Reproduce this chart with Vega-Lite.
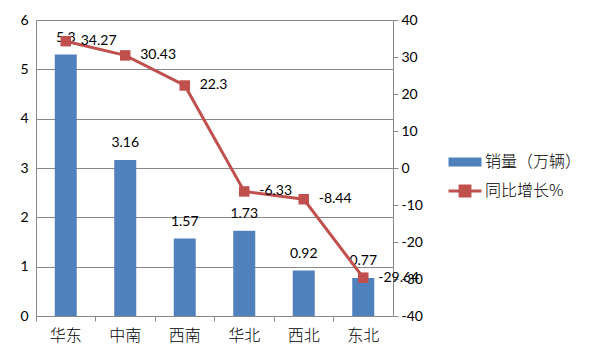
{
  "$schema": "https://vega.github.io/schema/vega-lite/v6.json",
  "autosize": "none",
  "width": 357,
  "height": 296,
  "padding": {"left": 36, "top": 20, "right": 207, "bottom": 43},
  "background": "white",
  "config": {
    "font": "Lato, Noto Sans CJK SC",
    "view": {"stroke": "#888888", "strokeWidth": 1},
    "axis": {"labelColor": "#000000", "domainColor": "#888888", "tickColor": "#888888", "gridColor": "#888888", "labelFont": "Lato, Noto Sans CJK SC", "labelOverlap": false}
  },
  "data": {
    "values": [
      {"region": "华东", "sales": 5.3, "growth": 34.27},
      {"region": "中南", "sales": 3.16, "growth": 30.43},
      {"region": "西南", "sales": 1.57, "growth": 22.3},
      {"region": "华北", "sales": 1.73, "growth": -6.33},
      {"region": "西北", "sales": 0.92, "growth": -8.44},
      {"region": "东北", "sales": 0.77, "growth": -29.64}
    ]
  },
  "encoding": {
    "x": {
      "field": "region", "type": "nominal", "sort": null,
      "scale": {"paddingInner": 0, "paddingOuter": 0},
      "axis": {"title": null, "labelAngle": 0, "labelFontSize": 16, "labelPadding": 6, "tickSize": 5, "bandPosition": 0, "grid": false, "labelFont": "Noto Sans CJK SC", "labelFontWeight": 300}
    }
  },
  "layer": [
    {
      "encoding": {
        "y": {"field": "sales", "type": "quantitative", "scale": {"domain": [0, 6]},
          "axis": {"title": null, "values": [0,1,2,3,4,5,6], "ticks": false, "labelPadding": 8, "labelFontSize": 14, "grid": true, "labelOverlap": false}}
      },
      "layer": [
        {
          "mark": {"type": "bar", "size": 22, "color": "#4F81BD"},
          "encoding": {
            "color": {"datum": "销量（万辆）", "type": "nominal",
              "scale": {"domain": ["销量（万辆）", "同比增长%"], "range": ["#4F81BD", "#C0504D"]},
              "legend": {
                "title": null, "orient": "none", "legendX": 411, "legendY": 124,
                "symbolSize": 1089, "labelFontSize": 16, "labelOffset": 2, "rowPadding": 0, "padding": 0,
                "labelFont": "Noto Sans CJK SC", "labelFontWeight": 300, "labelColor": "#000000",
                "symbolType": "square",
                "encode": {
                  "symbols": {
                    "update": {
                      "shape": {"signal": "datum.value === '销量（万辆）' ? 'M-1,-0.27H1V0.27H-1Z' : 'M-1,0H1M-0.3,-0.3H0.3V0.3H-0.3Z'"},
                      "fill": {"signal": "datum.value === '销量（万辆）' ? '#4F81BD' : '#C0504D'"},
                      "stroke": {"signal": "datum.value === '销量（万辆）' ? 'transparent' : '#C0504D'"},
                      "strokeWidth": {"value": 3},
                      "opacity": {"value": 1},
                      "fillOpacity": {"value": 1}
                    }
                  }
                }
              }}
          }
        },
        {
          "mark": {"type": "text", "baseline": "bottom", "dy": -10, "fontSize": 14, "color": "#000000"},
          "encoding": {
            "text": {"field": "sales", "type": "nominal"}
          }
        }
      ]
    },
    {
      "encoding": {
        "y": {"field": "growth", "type": "quantitative", "scale": {"domain": [-40, 40]},
          "axis": {"title": null, "orient": "right", "values": [-40,-30,-20,-10,0,10,20,30,40], "tickSize": 5, "labelPadding": 3, "labelFontSize": 14, "grid": false, "labelOverlap": false, "labelExpr": "replace(datum.label, '−', '-')"}}
      },
      "layer": [
        {
          "mark": {"type": "line", "color": "#C0504D", "strokeWidth": 3}
        },
        {
          "mark": {"type": "point", "shape": "square", "filled": true, "size": 110, "color": "#C0504D", "opacity": 1}
        },
        {
          "mark": {"type": "text", "align": "left", "baseline": "middle", "dx": 15, "fontSize": 14, "color": "#000000"},
          "encoding": {
            "text": {"field": "growth", "type": "nominal"}
          }
        }
      ]
    }
  ],
  "resolve": {"scale": {"y": "independent"}}
}
